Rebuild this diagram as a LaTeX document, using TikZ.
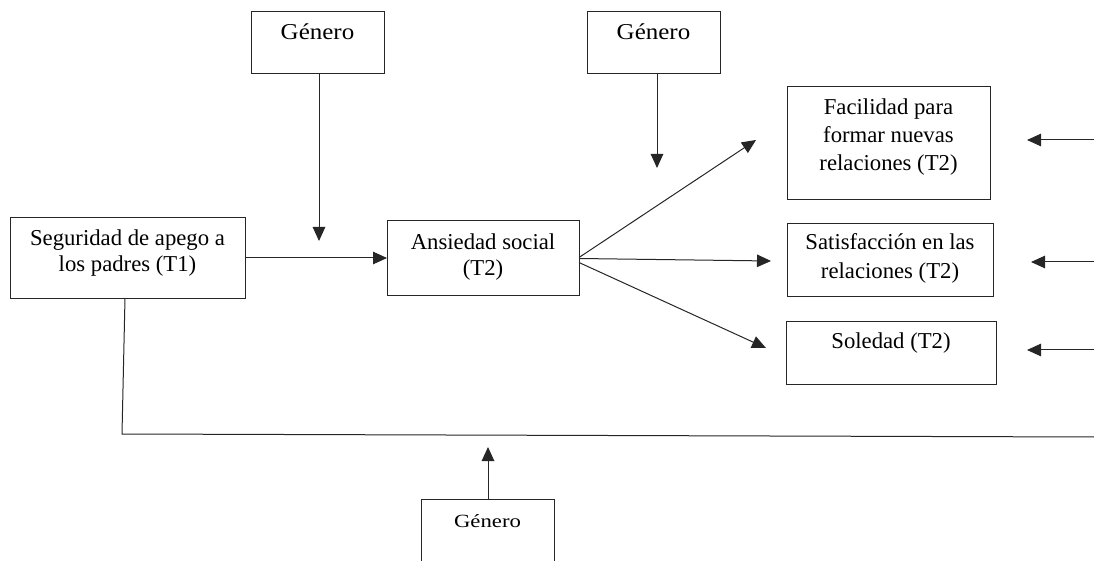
\documentclass[tikz,border=0pt]{standalone}
\usepackage{fontspec}
\setmainfont{Liberation Serif}
\usetikzlibrary{arrows.meta}
\newcommand\bxt[5]{\parbox[c][#2bp][t]{#1bp}{\centering\fontsize{22.8}{#4}\selectfont\vspace*{#3bp}\rule{0pt}{16bp}#5\par}}
\begin{document}
\begin{tikzpicture}[x=1bp,y=-1bp,
  box/.style={draw=black!85, line width=1bp, inner sep=0pt, outer sep=0pt, anchor=north west},
  conn/.style={draw=black!85, line width=1bp},
  arr/.style={conn, -{Triangle[length=14bp,width=12.5bp]}}]
\useasboundingbox (0,0) rectangle (1094,561);
\clip (0,0) rectangle (1094,561);
% boxes
\node[box] (g1) at (251,12) {\bxt{133}{62}{12}{26}{\scalebox{1.1}[1]{Género}}};
\node[box] (g2) at (587,12) {\bxt{133}{62}{12}{26}{\scalebox{1.1}[1]{Género}}};
\node[box] (seg) at (10,218) {\bxt{235}{80}{12}{26}{Seguridad de apego a\\los padres (T1)}};
\node[box] (ans) at (387,221) {\bxt{192}{75}{13}{26}{Ansiedad social\\(T2)}};
\node[box] (fac) at (787,87) {\bxt{203}{113}{12}{28}{Facilidad para\\formar nuevas\\relaciones (T2)}};
\node[box] (sat) at (787,224) {\bxt{206}{73}{10}{29}{Satisfacción en las\\relaciones (T2)}};
\node[box] (sol) at (786,322) {\bxt{210}{62}{11}{26}{Soledad (T2)}};
\node[box] (g3) at (421,499) {\bxt{133}{70}{12}{26}{\scalebox{1}[0.82]{Género}}};
% free ends
\coordinate (t1) at (319,241);
\coordinate (t2) at (657,168);
\coordinate (t3) at (488,447);
\coordinate (f1) at (756,140);
\coordinate (f2) at (771,261);
\coordinate (f3) at (766,348);
\coordinate (r1s) at (1094,140);
\coordinate (r1e) at (1027,140);
\coordinate (r2s) at (1094,262);
\coordinate (r2e) at (1031,262);
\coordinate (r3s) at (1094,350);
\coordinate (r3e) at (1027,350);
\coordinate (b0) at (125,298);
\coordinate (b1) at (122,434);
\coordinate (b2) at (1094,437);
% connectors
\draw[arr] (t1 |- g1.south) -- (t1);
\draw[arr] (t2 |- g2.south) -- (t2);
\draw[arr] (seg.east) -- (seg.east -| ans.west);
\draw[arr] ([yshift=1bp]ans.east) -- (f1);
\draw[arr] (ans.east) -- (f2);
\draw[arr] ([yshift=-4bp]ans.east) -- (f3);
\draw[arr] (r1s) -- (r1e);
\draw[arr] (r2s) -- (r2e);
\draw[arr] (r3s) -- (r3e);
\draw[conn] (b0) -- (b1) -- (b2);
\draw[arr] (t3 |- g3.north) -- (t3);
\end{tikzpicture}
\end{document}
